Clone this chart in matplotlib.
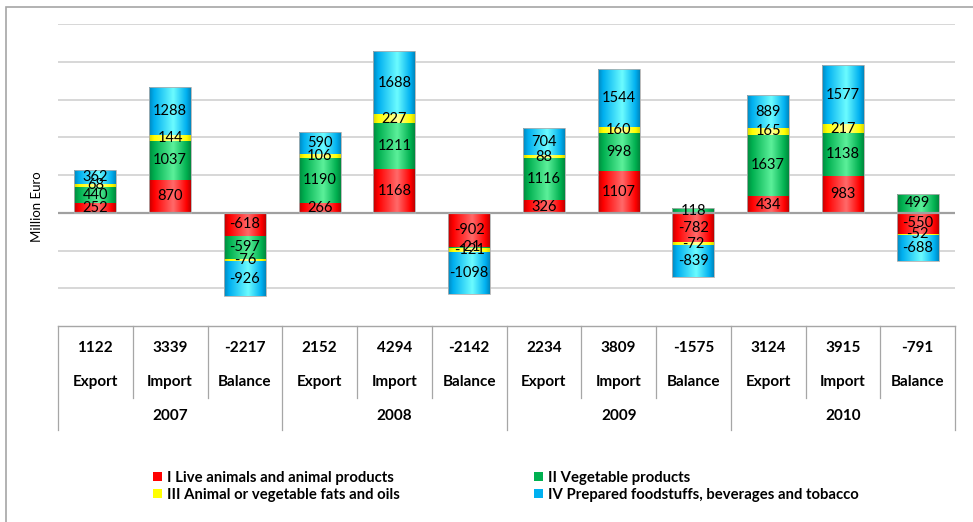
import numpy as np
import matplotlib
matplotlib.use("Agg")
import matplotlib.pyplot as plt
from matplotlib.patches import Rectangle, Patch
from matplotlib.colors import to_rgb

plt.rcParams['font.family'] = ['Lato', 'DejaVu Sans']

# ---------------- data ----------------
years = ['2007', '2008', '2009', '2010']
flows = ['Export', 'Import', 'Balance'] * 4
totals = ['1122', '3339', '-2217', '2152', '4294', '-2142',
          '2234', '3809', '-1575', '3124', '3915', '-791']
series_names = ['I Live animals and animal products',
                'II Vegetable products',
                'III Animal or vegetable fats and oils',
                'IV Prepared foodstuffs, beverages and tobacco']
live_animals = [252, 870, -618, 266, 1168, -902, 326, 1107, -782, 434, 983, -550]
vegetable = [440, 1037, -597, 1190, 1211, -21, 1116, 998, 118, 1637, 1138, 499]
fats_oils = [68, 144, -76, 106, 227, -121, 88, 160, -72, 165, 217, -52]
prepared = [362, 1288, -926, 590, 1688, -1098, 704, 1544, -839, 889, 1577, -688]
series = [live_animals, vegetable, fats_oils, prepared]

# colours: (edge/dark, base, highlight)
palettes = [
    ('#c00000', '#ff0000', '#ff6a6a'),
    ('#008a3e', '#00b050', '#5cf09a'),
    ('#d8d800', '#ffff00', '#ffff9a'),
    ('#0088bf', '#00b0f0', '#6cfcff'),
]
legend_colors = ['#ff0000', '#00b050', '#ffff00', '#00b0f0']

W, H = 973, 522
fig = plt.figure(figsize=(W / 100, H / 100), dpi=100)
fig.patch.set_facecolor('white')

# outer border
fig.add_artist(Rectangle((6 / W, -0.1), 1.2, 1 - 7 / H + 0.1, transform=fig.transFigure,
                         fill=False, edgecolor='#a6a6a6', lw=1.2))

ax = fig.add_axes([58 / W, 1 - 326 / H, 897 / W, 302 / H])
ax.set_xlim(-0.5, len(flows) - 0.5)
ax.set_ylim(-3000, 5000)
for s in ax.spines.values():
    s.set_visible(False)
ax.set_xticks([])
ax.set_yticks([])

# grid lines
for g in range(-2000, 5001, 1000):
    if g == 0:
        continue
    ax.axhline(g, color='#d4d4d4', lw=1.3, zorder=0)
ax.axhline(-3000, color='#a6a6a6', lw=1.0, zorder=0, clip_on=False)

x = np.arange(len(flows))
width = 0.56
pos_base = np.zeros(len(flows))
neg_base = np.zeros(len(flows))


def gradient_img(pal):
    dark, base, light = [np.array(to_rgb(c)) for c in pal]
    t = np.linspace(0, 1, 64)
    stops = [0, 0.12, 0.58, 0.9, 1.0]
    cols = [dark, base, light, base, dark]
    img = np.zeros((1, len(t), 3))
    for ch in range(3):
        img[0, :, ch] = np.interp(t, stops, [c[ch] for c in cols])
    return img


for si, vals in enumerate(series):
    vals = np.array(vals, dtype=float)
    bottoms = np.where(vals >= 0, pos_base, neg_base)
    bars = ax.bar(x, vals, width, bottom=bottoms, color=legend_colors[si],
                  edgecolor='none', zorder=2, label=series_names[si])
    img = gradient_img(palettes[si])
    for b, v, bt in zip(bars, vals, bottoms):
        x0, w = b.get_x(), b.get_width()
        y0, y1 = sorted([bt, bt + v])
        im = ax.imshow(img, extent=(x0, x0 + w, y0, y1), aspect='auto',
                       interpolation='bilinear', zorder=2.1)
        im.set_clip_path(b)
        ax.text(x0 + w / 2, bt + v / 2, f'{int(v)}', ha='center', va='center',
                fontsize=10.5, color='black', zorder=5)
    pos_base = np.where(vals >= 0, pos_base + vals, pos_base)
    neg_base = np.where(vals < 0, neg_base + vals, neg_base)

# column outline
for xi, top, bot in zip(x, pos_base, neg_base):
    ax.add_patch(Rectangle((xi - width / 2, bot), width, top - bot, fill=False,
                           edgecolor='#b0b0b0', lw=0.6, zorder=3))

ax.axhline(0, color='#a0a0a0', lw=1.6, zorder=2.5)
ax.set_xlim(-0.5, len(flows) - 0.5)
ax.set_ylim(-3000, 5000)

# table below
tr = ax.get_xaxis_transform()
ph = 302.0


def fy(py):
    return (326 - py) / ph


for i in range(len(flows)):
    ax.text(i, fy(348), totals[i], transform=tr, ha='center', va='center',
            fontsize=11, fontweight='bold', clip_on=False)
    ax.text(i, fy(382), flows[i], transform=tr, ha='center', va='center',
            fontsize=11, fontweight='bold', clip_on=False)
for k, yr in enumerate(years):
    ax.text(3 * k + 1, fy(416), yr, transform=tr, ha='center', va='center',
            fontsize=11, fontweight='bold', clip_on=False)
for b in np.arange(-0.5, len(flows), 1.0):
    idx = int(b + 0.5)
    bottom = fy(430) if idx % 3 == 0 else fy(398)
    ax.plot([b, b], [0, bottom], transform=tr, color='#a6a6a6', lw=0.9,
            clip_on=False)

# y label
fig.text(37 / W, 1 - 207 / H, 'Million Euro', rotation=90, ha='center', va='center',
         fontsize=9.5)

# legend (two columns)
handles = [Patch(facecolor=c, edgecolor='none') for c in legend_colors]
leg_kw = dict(frameon=False, prop={'weight': 'bold', 'size': 10.7},
              handlelength=0.6, handleheight=0.6, handletextpad=0.35,
              labelspacing=0.2, borderpad=0, borderaxespad=0, loc='upper left')
leg1 = fig.legend([handles[0], handles[2]], [series_names[0], series_names[2]],
                  bbox_to_anchor=(153 / W, 1 - 471 / H), **leg_kw)
leg2 = fig.legend([handles[1], handles[3]], [series_names[1], series_names[3]],
                  bbox_to_anchor=(534 / W, 1 - 471 / H), **leg_kw)

fig.savefig('out.png', dpi=100, facecolor='white')
